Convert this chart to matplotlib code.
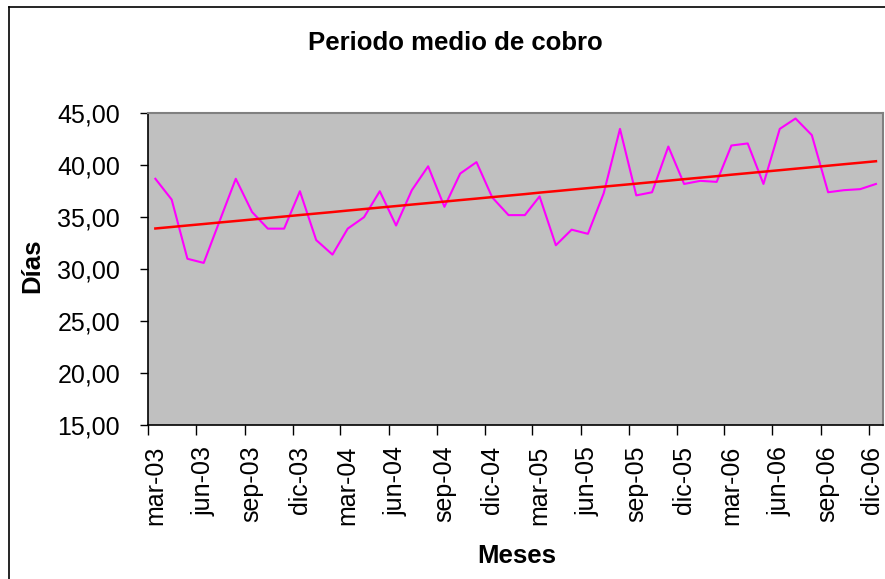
import datetime as dt
import numpy as np
import matplotlib
matplotlib.use("Agg")
import matplotlib.pyplot as plt
import matplotlib.dates as mdates
from matplotlib.transforms import ScaledTranslation
from matplotlib.lines import Line2D

plt.rcParams['font.family'] = ['Liberation Sans', 'DejaVu Sans']

# Monthly data: mar-03 .. dic-06
start_year, start_month = 2003, 3
dias = [38.7, 36.7, 31.0, 30.6, 34.6, 38.7, 35.5, 33.9, 33.9, 37.5,
        32.8, 31.4, 33.9, 35.0, 37.5, 34.2, 37.6, 39.9, 36.0, 39.2,
        40.3, 36.9, 35.2, 35.2, 37.0, 32.3, 33.8, 33.4, 37.3, 43.5,
        37.1, 37.4, 41.8, 38.2, 38.5, 38.4, 41.9, 42.1, 38.2, 43.5,
        44.5, 42.9, 37.4, 37.6, 37.7, 38.2]
tick_labels = ['mar-03', 'jun-03', 'sep-03', 'dic-03', 'mar-04', 'jun-04',
               'sep-04', 'dic-04', 'mar-05', 'jun-05', 'sep-05', 'dic-05',
               'mar-06', 'jun-06', 'sep-06', 'dic-06']

def month_date(i, day):
    m = start_month - 1 + i
    return dt.date(start_year + m // 12, m % 12 + 1, day)

fechas = [month_date(i, 15) for i in range(len(dias))]
tick_dates = [month_date(3 * i, 1) for i in range(len(tick_labels))]

coef = np.polyfit(np.arange(len(dias)), dias, 1)
trend = np.polyval(coef, np.arange(len(dias)))

fig = plt.figure(figsize=(8.85, 5.79), dpi=100)
ax = fig.add_axes([148 / 885, 1 - 425 / 579, (883.3 - 148) / 885, (425 - 113.3) / 579])
ax.set_facecolor('#c0c0c0')

ax.plot(fechas, dias, color='#ff00ff', lw=1.5, zorder=3)
ax.plot(fechas, trend, color='#ff0000', lw=1.8, zorder=4)

ax.set_ylim(15, 45)
ax.set_yticks(np.arange(15, 46, 5))
ax.set_yticklabels([f"{v:.2f}".replace('.', ',') for v in np.arange(15, 46, 5)])
ax.set_xlim(dt.date(2003, 3, 1), dt.date(2006, 12, 29))
ax.set_xticks(tick_dates)
ax.set_xticklabels(tick_labels, rotation=90)

ax.tick_params(axis='y', labelsize=18, length=6, width=1, pad=14, color='black')
ax.tick_params(axis='x', labelsize=18, length=7, width=1, pad=8, color='black')
xlabs = ax.get_xticklabels()
for i, lab in enumerate(xlabs):
    shift = 3 if i == len(xlabs) - 1 else 7
    lab.set_transform(lab.get_transform() + ScaledTranslation(shift / 100, 0, fig.dpi_scale_trans))

for s in ['left', 'bottom']:
    ax.spines[s].set_color('black')
    ax.spines[s].set_linewidth(1.2)
for s in ['top', 'right']:
    ax.spines[s].set_color('#808080')
    ax.spines[s].set_linewidth(1.5)

fig.text(455.5 / 885, 1 - 43 / 579, 'Periodo medio de cobro', fontsize=18.5,
         fontweight='bold', ha='center', va='center')
fig.text(517 / 885, 1 - 556 / 579, 'Meses', fontsize=18.5, fontweight='bold',
         ha='center', va='center')
fig.text(32 / 885, 1 - 266 / 579, 'Días', fontsize=18.5, fontweight='bold',
         ha='center', va='center', rotation=90)

# chart area border (left and top visible)
fig.add_artist(Line2D([8.5 / 885, 8.5 / 885], [0, 1 - 6.5 / 579], color='black', lw=1.2,
                      transform=fig.transFigure))
fig.add_artist(Line2D([8.5 / 885, 1], [1 - 6.5 / 579, 1 - 6.5 / 579], color='black', lw=1.2,
                      transform=fig.transFigure))

fig.savefig('out.png', dpi=100)
